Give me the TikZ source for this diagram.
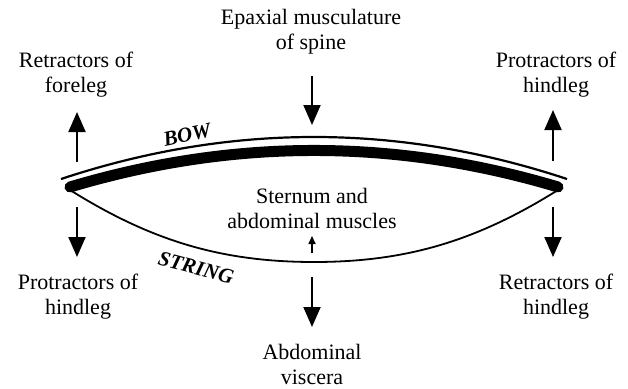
\documentclass[tikz,border=0pt]{standalone}
\usepackage{fontspec}
\setmainfont{Liberation Serif}
\usetikzlibrary{arrows.meta,positioning}

\begin{document}
\begin{tikzpicture}[x=1pt,y=-1pt,
  lbl/.style={align=center,inner sep=0pt,font=\fontsize{22}{25}\selectfont},
  tag/.style={inner sep=0pt,font=\fontsize{21}{25}\selectfont\bfseries\itshape},
  force/.style={line width=2pt,-{Triangle[length=20pt,width=17pt]}},
  smallforce/.style={line width=1.6pt,-{Triangle[length=8pt,width=7pt]}}]
\useasboundingbox (0,0) rectangle (628,388);

% bow and string
\coordinate (bowL) at (70,187);
\coordinate (bowR) at (558,187);
\draw[line width=2.2pt] (61,179) .. controls (230,123) and (398,123) .. (567,179);
\draw[white,line width=15pt,line cap=round] (bowL) .. controls (233,138.3) and (395,138.3) .. (bowR);
\draw[line width=11pt,line cap=round] (bowL) .. controls (233,138.3) and (395,138.3) .. (bowR);
\draw[line width=1.8pt] (70,190) .. controls (150,240) and (220,262) .. (314,262)
   .. controls (408,262) and (478,240) .. (558,190);
\node[tag,rotate=12] (bow) at (187,135) {BOW};
\node[tag,rotate=-15] (string) at (196,268) {STRING};

% labels
\node[lbl] (epax) at (311,32) {Epaxial musculature\\of spine};
\node[lbl] (retfore) at (76,75) {Retractors of\\foreleg};
\node[lbl] (prohindR) at (556,75) {Protractors of\\hindleg};
\node[lbl] (prohindL) at (78,297) {Protractors of\\hindleg};
\node[lbl] (rethind) at (556,297) {Retractors of\\hindleg};
\node[lbl] (stern) at (312,208) {Sternum and\\abdominal muscles};
\node[lbl] (visc) at (312,364) {Abdominal\\viscera};

% forces
\foreach \nm/\xx/\ya/\yb in {lu/77/162/112, ld/77/207/257, ru/553/161/110,
    rd/553/207/257, cu/312/76/125, cd/312/277/327}{
  \coordinate (\nm a) at (\xx,\ya);
  \coordinate (\nm b) at (\xx,\yb);
  \draw[force] (\nm a) -- (\nm b);
}
\coordinate (sta) at (312,253);
\coordinate (stb) at (312,236);
\draw[smallforce] (sta) -- (stb);

\end{tikzpicture}
\end{document}
